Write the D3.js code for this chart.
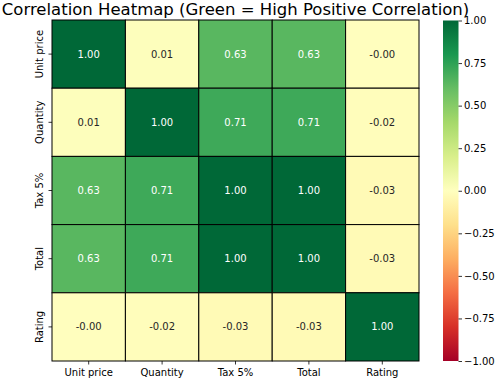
<!DOCTYPE html>
<html><head><meta charset="utf-8">
<script src="https://cdn.jsdelivr.net/npm/d3@7"></script>
<style>body{margin:0;background:#fff;} svg{display:block;font-family:"DejaVu Sans",sans-serif;}</style>
</head><body>
<svg id="c" width="500" height="379"></svg>
<script>
const labels = ["Unit price","Quantity","Tax 5%","Total","Rating"];
const row0 = [1.00, 0.011, 0.634, 0.634, -0.004];
const row1 = [0.011, 1.00, 0.706, 0.706, -0.016];
const row2 = [0.634, 0.706, 1.00, 1.00, -0.034];
const row3 = [0.634, 0.706, 1.00, 1.00, -0.034];
const row4 = [-0.004, -0.016, -0.034, -0.034, 1.00];
const matrix = [row0,row1,row2,row3,row4];
const cbTicks = [1.00,0.75,0.50,0.25,0.00,-0.25,-0.50,-0.75,-1.00];
const title = "Correlation Heatmap (Green = High Positive Correlation)";
const rdylgn = ["#a50026","#d73027","#f46d43","#fdae61","#fee08b","#ffffbf","#d9ef8b","#a6d96a","#66bd63","#1a9850","#006837"];

const svg = d3.select("#c");
const L=52, R=419, T=20, B=361;
const x = d3.scaleBand().domain(labels).range([L,R]);
const y = d3.scaleBand().domain(labels).range([T,B]);
const color = d3.scaleLinear().domain(d3.range(11).map(i=>-1+i*0.2)).range(rdylgn).interpolate(d3.interpolateRgb).clamp(true);

const cells = [];
matrix.forEach((r,i)=>r.forEach((v,j)=>cells.push({r:labels[i],c:labels[j],v})));

svg.append("g").selectAll("rect").data(cells).join("rect")
  .attr("x",d=>x(d.c)).attr("y",d=>y(d.r))
  .attr("width",x.bandwidth()).attr("height",y.bandwidth())
  .attr("fill",d=>color(d.v)).attr("stroke","#000").attr("stroke-width",1);

svg.append("g").selectAll("text").data(cells).join("text")
  .attr("x",d=>x(d.c)+x.bandwidth()/2).attr("y",d=>y(d.r)+y.bandwidth()/2)
  .attr("text-anchor","middle").attr("dominant-baseline","central")
  .attr("font-size",10)
  .attr("fill",d=>{const c=d3.lab(color(d.v)); return c.l<80?"#fff":"#262626";})
  .text(d=>(d.v<0?"-":"")+Math.abs(d.v).toFixed(2));

// axes
const xa = svg.append("g").attr("transform",`translate(0,${B})`).call(d3.axisBottom(x).tickSize(3.5).tickPadding(4.5));
const ya = svg.append("g").attr("transform",`translate(${L},0)`).call(d3.axisLeft(y).tickSize(3.5).tickPadding(3));
[xa,ya].forEach(a=>{a.select(".domain").remove(); a.selectAll("text").attr("font-size",10).attr("fill","#000").attr("font-family","DejaVu Sans"); a.selectAll("line").attr("stroke","#000").attr("stroke-width",0.8);});
ya.selectAll(".tick text").attr("transform","rotate(-90)").attr("text-anchor","middle").attr("x",0).attr("y",-9).attr("dy","0");

// title
svg.append("text").attr("x",(L+R)/2).attr("y",15).attr("text-anchor","middle").attr("font-size",16.5).attr("fill","#000").text(title);

// colorbar
const cbL=443, cbW=15.5;
const cy = d3.scaleLinear().domain([1,-1]).range([T+0.5,B]);
const defs = svg.append("defs");
const grad = defs.append("linearGradient").attr("id","g").attr("x1",0).attr("x2",0).attr("y1",0).attr("y2",1);
rdylgn.slice().reverse().forEach((c,i)=>grad.append("stop").attr("offset",i/10).attr("stop-color",c));
svg.append("rect").attr("x",cbL).attr("y",cy(1)).attr("width",cbW).attr("height",cy(-1)-cy(1)).attr("fill","url(#g)");
const ca = svg.append("g").attr("transform",`translate(${cbL+cbW},0)`).call(d3.axisRight(cy).tickValues(cbTicks).tickSize(3.5).tickPadding(2).tickFormat(d=>d3.format(".2f")(d).replace("-","\u2212")));
ca.select(".domain").remove();
ca.selectAll("text").attr("font-size",10).attr("fill","#000").attr("font-family","DejaVu Sans");
ca.selectAll("line").attr("stroke","#000").attr("stroke-width",0.8);
</script>
</body></html>
